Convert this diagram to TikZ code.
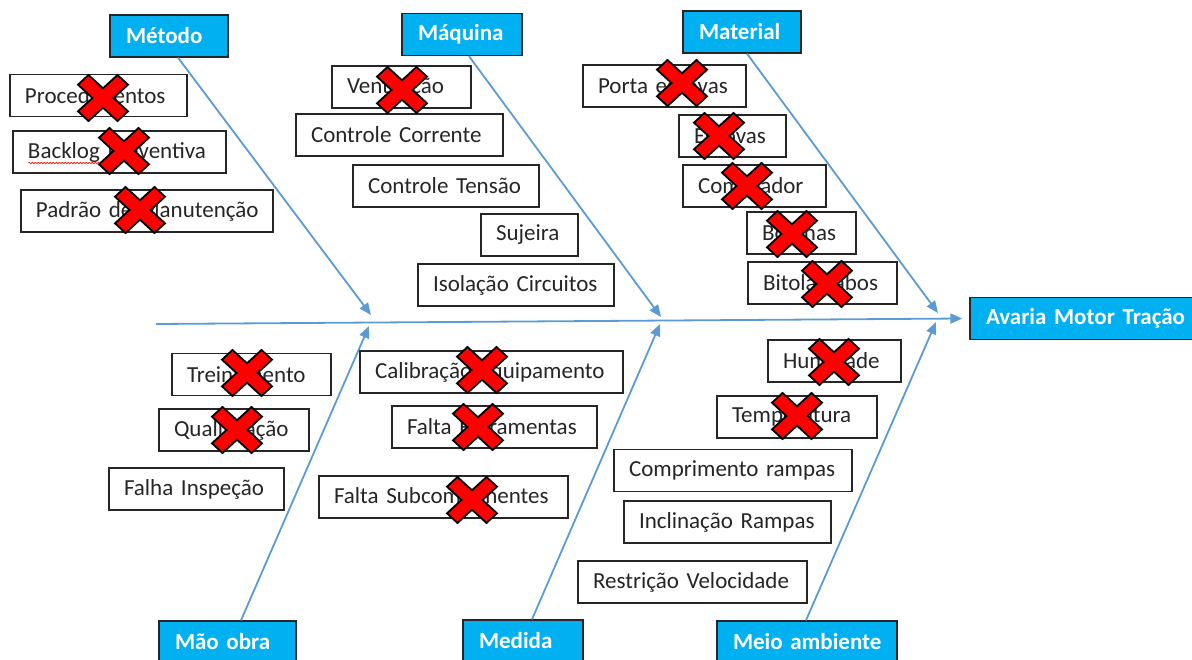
\documentclass[tikz,border=0pt]{standalone}
\usepackage{fontspec}
\setmainfont{Carlito}
\usetikzlibrary{arrows.meta,decorations.pathmorphing}
\definecolor{boneblue}{HTML}{5B9BD5}
\definecolor{catcyan}{HTML}{00B0F0}
\definecolor{crossred}{HTML}{FF0000}
\definecolor{boxline}{HTML}{262626}

\tikzset{
  pics/redx/.style={code={
    \filldraw[fill=crossred,draw=black,line width=1.8bp,line join=miter]
      (0,9.7) -- (14.5,23) -- (25,13.3) -- (10.5,0) -- (25,-13.3) -- (14.5,-23)
      -- (0,-9.7) -- (-14.5,-23) -- (-25,-13.3) -- (-10.5,0) -- (-25,13.3)
      -- (-14.5,23) -- cycle;
  }}
}

\begin{document}
\begin{tikzpicture}[x=1bp,y=-1bp,
  font=\fontsize{23bp}{27bp}\selectfont,
  box/.style={rectangle,minimum height=42bp,inner xsep=15bp,inner ysep=0bp,align=left,
    execute at begin node=\hbox\bgroup,execute at end node=\egroup},
  cause/.style={box,draw=boxline,line width=1.1bp,fill=white,text=black!85,
    minimum width=#1bp,text width=#1bp-30bp},
  categ/.style={box,draw=boxline,line width=1.3bp,fill=catcyan,text=white,
    font=\fontsize{23bp}{27bp}\selectfont\bfseries,inner xsep=16bp,
    minimum width=#1bp,text width=#1bp-32bp},
  bone/.style={boneblue,line width=1.8bp,-{Triangle[length=12bp,width=10bp]}}]

\useasboundingbox (0,0) rectangle (1192,660);

% categories
\node[categ=118] (metodo)   at (169,36)   {Método};
\node[categ=120] (maquina)  at (462,34.5) {Máquina};
\node[categ=118] (material) at (742,32)   {Material};
\node[categ=137] (maoobra)  at (227.5,642) {Mão obra};
\node[categ=120] (medida)   at (523,641)  {Medida};
\node[categ=180] (meio)     at (807,642)  {Meio ambiente};
\node[categ=224] (efeito)   at (1082,318.5) {Avaria Motor Tração};

% spine and bones
\coordinate (tail) at (156,324);
\coordinate (jm1) at (371,315);
\coordinate (jm2) at (661,317);
\coordinate (jm3) at (938,313);
\coordinate (jb1) at (369,326);
\coordinate (jb2) at (660,324);
\coordinate (jb3) at (936,322);
\draw[bone] (tail) -- ([xshift=-7bp]efeito.west);
\draw[bone] ([xshift=9bp]metodo.south) -- (jm1);
\draw[bone] ([xshift=7bp]maquina.south) -- (jm2);
\draw[bone] ([xshift=5bp]material.south) -- (jm3);
\draw[bone] ([xshift=13.5bp]maoobra.north) -- (jb1);
\draw[bone] ([xshift=9bp]medida.north) -- (jb2);
\draw[bone] ([xshift=-1bp]meio.north) -- (jb3);

% Método
\node[cause=177] (proc)    at (98.5,95.5) {Procedimentos};
\node[cause=213] (backlog) at (119.5,152) {Backlog Preventiva};
\node[cause=252] (padrao)  at (147,211)   {Padrão de Manutenção};
\draw[crossred,line width=0.6bp,decorate,decoration={snake,amplitude=0.9bp,segment length=3bp}]
  ([xshift=16bp,yshift=-11bp]backlog.west) -- ([xshift=87bp,yshift=-11bp]backlog.west);

% Máquina
\node[cause=139] (vent)  at (401.5,87)  {Ventilação};
\node[cause=207] (ccorr) at (399.5,135) {Controle Corrente};
\node[cause=186] (ctens) at (446,186)   {Controle Tensão};
\node[cause=97]  (suj)   at (529.5,235) {Sujeira};
\node[cause=196] (isol)  at (516,285)   {Isolação Circuitos};

% Material
\node[cause=163] (porta)   at (664.5,86)  {Porta escovas};
\node[cause=107] (escovas) at (732.5,136) {Escovas};
\node[cause=143] (comut)   at (754.5,186) {Comutador};
\node[cause=109] (bob)     at (801.5,233) {Bobinas};
\node[cause=149] (bitola)  at (822.5,283) {Bitola cabos};

% Mão obra
\node[cause=159] (trein) at (251.5,374.5) {Treinamento};
\node[cause=150] (qual)  at (234,430)     {Qualificação};
\node[cause=175] (falha) at (196.5,489)   {Falha Inspeção};

% Medida
\node[cause=263] (calib) at (491.5,372) {Calibração Equipamento};
\node[cause=205] (ferr)  at (494.5,427) {Falta Ferramentas};
\node[cause=249] (subc)  at (443.5,497) {Falta Subcomponentes};

% Meio ambiente
\node[cause=133] (humid) at (834.5,361) {Humidade};
\node[cause=160] (temp)  at (797,417)   {Temperatura};
\node[cause=238] (compr) at (733,470.5) {Comprimento rampas};
\node[cause=207] (incl)  at (727.5,522) {Inclinação Rampas};
\node[cause=229] (restr) at (692.5,582) {Restrição Velocidade};

% crossed out
\pic at (103,98)  {redx};
\pic at (124,151) {redx};
\pic at (140,210) {redx};
\pic at (402,90)  {redx};
\pic at (682,83)  {redx};
\pic at (719,136) {redx};
\pic at (747,186) {redx};
\pic at (792,234) {redx};
\pic at (827,284) {redx};
\pic at (247,373) {redx};
\pic at (237,430) {redx};
\pic at (482,370) {redx};
\pic at (478,427) {redx};
\pic at (472,500) {redx};
\pic at (834,362) {redx};
\pic at (797,416) {redx};
\end{tikzpicture}
\end{document}
